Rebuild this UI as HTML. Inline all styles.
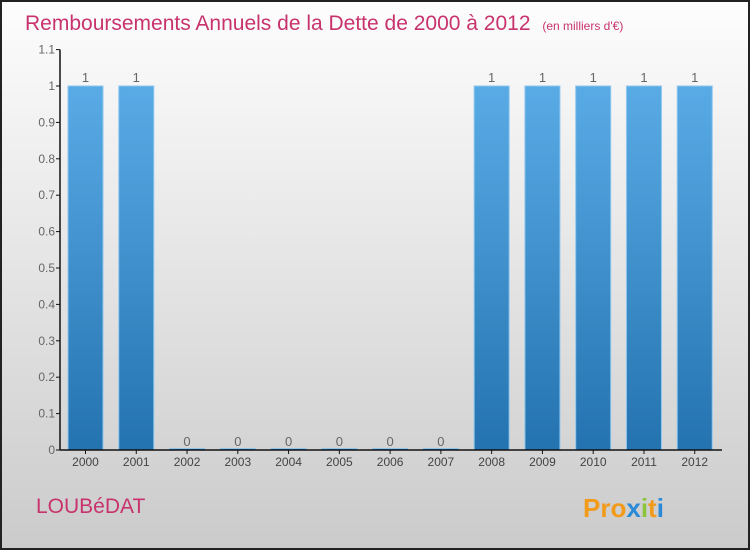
<!DOCTYPE html>
<html><head><meta charset="utf-8"><style>
body{margin:0;width:750px;height:550px;overflow:hidden}
svg{font-family:"Liberation Sans",sans-serif}
</style></head><body>
<svg width="750" height="550">
<defs>
<linearGradient id="bg" x1="0" y1="0" x2="0" y2="1"><stop offset="0" stop-color="#fdfdfd"/><stop offset="1" stop-color="#cbcbcb"/></linearGradient>
<linearGradient id="bar" x1="0" y1="0" x2="0" y2="1"><stop offset="0" stop-color="#59abe6"/><stop offset="1" stop-color="#2473b0"/></linearGradient>
</defs>
<rect x="1" y="1" width="748" height="548" fill="url(#bg)" stroke="#222" stroke-width="2"/>
<text x="25" y="30" font-size="21" fill="#c8336e">Remboursements Annuels de la Dette de 2000 à 2012 <tspan font-size="12" dx="6">(en milliers d'€)</tspan></text>
<text x="36" y="513" font-size="21" fill="#c8336e">LOUBéDAT</text>
<text x="583" y="517" font-size="26" font-weight="bold"><tspan fill="#f29a1a">Pro</tspan><tspan fill="#2a8ad8">x</tspan><tspan fill="#8cc43c">i</tspan><tspan fill="#f29a1a">t</tspan><tspan fill="#2a8ad8">i</tspan></text>
<g id="plot"></g>
</svg>
<script>
const categories=["2000","2001","2002","2003","2004","2005","2006","2007","2008","2009","2010","2011","2012"];
const values=[1,1,0,0,0,0,0,0,1,1,1,1,1];
const yTicks=[0,0.1,0.2,0.3,0.4,0.5,0.6,0.7,0.8,0.9,1,1.1];
const NS="http://www.w3.org/2000/svg";
const g=document.getElementById('plot');
const x0=60,step=50.77,y0=450,pxPerUnit=364;
const y=v=>y0-v*pxPerUnit;
function el(t,a,txt){const e=document.createElementNS(NS,t);for(const k in a)e.setAttribute(k,a[k]);if(txt!==undefined)e.textContent=txt;g.appendChild(e);return e;}
categories.forEach((c,i)=>{
 const bx=x0+8+i*step,h=Math.max(values[i]*pxPerUnit,1.5);
 const b=el('rect',{x:bx,y:y0-h,width:35,height:h,fill:'url(#bar)',stroke:'#8ec6ee','stroke-width':1});
 
 
 const v=el('text',{x:bx+17.5,y:y(values[i])-4,'font-size':13,fill:'#666','text-anchor':'middle'},String(values[i]));
 
 
 const t=el('text',{x:bx+17.5,y:466,'font-size':12,fill:'#444','text-anchor':'middle'},c);
 
 
 el('line',{x1:bx+17.5,x2:bx+17.5,y1:y0,y2:y0+4,stroke:'#111'});
});
yTicks.forEach(v=>{
 el('line',{x1:x0-4,x2:x0,y1:y(v),y2:y(v),stroke:'#111'});
 const t=el('text',{x:x0-5,y:y(v)+4,'font-size':12,fill:'#666','text-anchor':'end'},String(v));
 
 
});
const ya=el('line',{x1:x0,x2:x0,y1:y(1.1),y2:y0,stroke:'#111','stroke-width':1.5});


const xa=el('line',{x1:x0,x2:722,y1:y0,y2:y0,stroke:'#111','stroke-width':1.5});


</script>
</body></html>
